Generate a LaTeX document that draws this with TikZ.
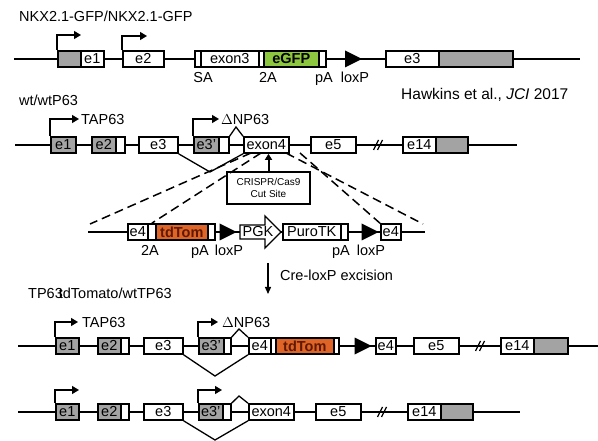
\documentclass[tikz,border=0pt]{standalone}
\usepackage{fontspec}
\setmainfont{Liberation Sans}
\usetikzlibrary{arrows.meta,calc}
\definecolor{exgray}{RGB}{163,163,163}
\definecolor{exgreen}{RGB}{141,198,63}
\definecolor{exorange}{RGB}{222,100,40}
\definecolor{tomtext}{RGB}{95,25,0}
\newcommand\mysz{\fontsize{14.5}{16}\selectfont}
\begin{document}
\begin{tikzpicture}[x=1pt,y=-1pt,
  every node/.style={font=\mysz, inner sep=0pt},
  bb/.style={line width=1.8pt},
  ex/.style={draw, line width=1.6pt, fill=white, minimum height=16pt, anchor=west, inner sep=0pt},
  gx/.style={ex, fill=exgray},
  gfpbox/.style={ex, fill=exgreen, font=\mysz\bfseries},
  tombox/.style={ex, fill=exorange, text=tomtext, font=\mysz\bfseries},
  tss/.style={line width=1.4pt, -{Triangle[length=7pt,width=8pt]}},
  spl/.style={line width=1.3pt},
  dsh/.style={line width=1.5pt, dash pattern=on 9pt off 5pt},
  lbl/.style={anchor=base},
  brk/.style={line width=1.3pt},
  loxp/.pic={\fill (-8.5,-8.5) -- (8.5,0) -- (-8.5,8.5) -- cycle;},
  brkmark/.pic={\draw[brk] (-4.5,5) -- (0.5,-5); \draw[brk] (-0.5,5) -- (4.5,-5);}
]
\useasboundingbox (0,0) rectangle (598,441);

% ---------------- Row 1 : NKX2.1-GFP ----------------
\node[anchor=base west] (t1) at (19,22) {NKX2.1-GFP/NKX2.1-GFP};
\node[anchor=base west, font=\fontsize{15.5}{17}\selectfont] (cite) at (401,100) {Hawkins et al., \textit{JCI} 2017};
\coordinate (r1s) at (14,59); \coordinate (r1end) at (580,59);
\draw[bb] (r1s) -- (r1end);
\node[gx, minimum width=23pt] (r1g) at (57,59) {};
\node[ex, minimum width=23pt] (r1e1) at (80,59) {e1};
\node[ex, minimum width=41pt] (r1e2) at (122,59) {e2};
\node[ex, minimum width=6pt] (r1sa) at (194,59) {};
\node[ex, minimum width=58pt] (r1ex3) at (200,59) {exon3};
\node[ex, minimum width=5pt] (r1ta) at (258,59) {};
\node[gfpbox, minimum width=55pt] (r1gfp) at (263,59) {eGFP};
\node[ex, minimum width=7pt] (r1pa) at (318,59) {};
\pic at (353.5,59) {loxp};
\node[ex, minimum width=53pt] (r1e3) at (385,59) {e3};
\node[gx, minimum width=74pt] (r1g3) at (438,59) {};
\coordinate (r1t1) at (81,35); \coordinate (r1t2) at (147,36);
\draw[tss] (r1g.north west) |- (r1t1);
\draw[tss] (r1e2.north west) |- (r1t2);
\node[lbl] (l1sa) at (203,82.5) {SA};
\node[lbl] (l12a) at (268,82.5) {2A};
\node[lbl] (l1pa) at (324,82.5) {pA};
\node[lbl] (l1lx) at (355,82.5) {loxP};

% ---------------- Row 2 : wt/wtP63 ----------------
\node[anchor=base west] (t2) at (19,106) {wt/wtP63};
\coordinate (r2s) at (15,145); \coordinate (r2end) at (517,145);
\draw[bb] (r2s) -- (r2end);
\node[gx, minimum width=25pt] (r2e1) at (50,145) {e1};
\node[gx, minimum width=24pt] (r2e2) at (91,145) {e2};
\node[ex, minimum width=9pt] (r2e2w) at (115,145) {};
\node[ex, minimum width=39pt] (r2e3) at (138,145) {e3};
\node[gx, minimum width=25pt] (r2s3) at (193,145) {e3'};
\node[ex, minimum width=10pt] (r2s3w) at (218,145) {};
\node[ex, minimum width=45pt] (r2ex4) at (243,145) {exon4};
\node[ex, minimum width=45pt] (r2e5) at (310,145) {e5};
\pic at (378,145) {brkmark};
\node[ex, minimum width=33pt] (r2e14) at (402,145) {e14};
\node[gx, minimum width=32pt] (r2g14) at (435,145) {};
\coordinate (r2t1) at (79,119); \coordinate (r2t2) at (219,119);
\draw[tss] (r2e1.north west) |- (r2t1);
\draw[tss] (r2s3.north west) |- (r2t2);
\node[anchor=base west] (l2tap) at (81,125) {TAP63};
\node[anchor=base west] (l2dnp) at (221,125) {$\Delta$NP63};
\coordinate (r2c) at (236,127); \coordinate (r2v) at (210,172);
\draw[spl] (r2s3w.north east) -- (r2c) -- (r2ex4.north west);
\draw[spl] (r2e3.south east) -- (r2v) -- (r2ex4.south west);

% CRISPR
\node[draw, line width=1.3pt, minimum width=83pt, minimum height=32pt, align=center,
      font=\fontsize{10}{12.5}\selectfont] (crispr) at (268.5,188) {CRISPR/Cas9\\Cut Site};
\draw[line width=2pt, -{Triangle[length=6pt,width=7pt]}] (crispr.north) -- (crispr.north |- r2ex4.south);

% ---------------- Row 3 : targeting construct ----------------
\coordinate (r3s) at (88,232); \coordinate (r3end) at (425,232);
\draw[bb] (r3s) -- (r3end);
\node[ex, minimum width=20pt] (r3e4) at (127,232) {e4};
\node[ex, minimum width=8pt] (r3ta) at (147,232) {};
\node[tombox, minimum width=52pt] (r3tom) at (155,232) {tdTom};
\node[ex, minimum width=7pt] (r3pa) at (207,232) {};
\pic at (228,232) {loxp};
\draw[line width=1.4pt, fill=white] (240,225) -- (265,225) -- (265,216) -- (281,232)
   -- (265,248) -- (265,239) -- (240,239) -- cycle;
\node (pgk) at (258,232) {PGK};
\node[ex, minimum width=58pt] (r3puro) at (282,232) {PuroTK};
\node[ex, minimum width=7pt] (r3pa2) at (340,232) {};
\pic at (370,232) {loxp};
\node[ex, minimum width=20pt] (r3e4b) at (380,232) {e4};
\node[lbl] (l32a) at (150,255.5) {2A};
\node[lbl] (l3pa) at (200,255.5) {pA};
\node[lbl] (l3lx) at (229,255.5) {loxP};
\node[lbl] (l3pa2) at (341,255.5) {pA};
\node[lbl] (l3lx2) at (371,255.5) {loxP};

% dashed zoom lines
\coordinate (d1) at (251,153); \coordinate (d2) at (261,153);
\coordinate (d3) at (286,153); \coordinate (d4) at (300,153);
\coordinate (d1e) at (90,224); \coordinate (d3e) at (423,224);
\draw[dsh] (d1) -- (d1e);
\draw[dsh] (d2) -- (r3ta.north);
\draw[dsh] (d3) -- (d3e);
\draw[dsh] (d4) -- (r3e4b.north west);

% Cre arrow
\coordinate (cre1) at (268,263); \coordinate (cre2) at (268,294);
\draw[line width=1.3pt, -{Triangle[length=7pt,width=6pt]}] (cre1) -- (cre2);
\node[anchor=base west] (cretxt) at (280,281) {Cre-loxP excision};

% ---------------- Row 4 : TP63 tdTomato ----------------
\node[anchor=base west] (t4) at (28,299) {TP63\kern-4pt tdTomato/wtTP63};
\coordinate (r4s) at (18,346); \coordinate (r4end) at (598,346);
\draw[bb] (r4s) -- (r4end);
\node[gx, minimum width=23pt] (r4e1) at (55,346) {e1};
\node[gx, minimum width=23pt] (r4e2) at (97,346) {e2};
\node[ex, minimum width=8pt] (r4e2w) at (120,346) {};
\node[ex, minimum width=39pt] (r4e3) at (143,346) {e3};
\node[gx, minimum width=25pt] (r4s3) at (198,346) {e3'};
\node[ex, minimum width=7pt] (r4s3w) at (223,346) {};
\node[ex, minimum width=22pt] (r4e4) at (248,346) {e4};
\node[ex, minimum width=5pt] (r4ta) at (270,346) {};
\node[tombox, minimum width=58pt] (r4tom) at (275,346) {tdTom};
\node[ex, minimum width=5pt] (r4pa) at (333,346) {};
\pic at (363,346) {loxp};
\node[ex, minimum width=20pt] (r4e4b) at (375,346) {e4};
\node[ex, minimum width=45pt] (r4e5) at (413,346) {e5};
\pic at (480,346) {brkmark};
\node[ex, minimum width=33pt] (r4e14) at (500,346) {e14};
\node[gx, minimum width=34pt] (r4g14) at (533,346) {};
\coordinate (r4t1) at (78,322); \coordinate (r4t2) at (218,322);
\draw[tss] (r4e1.north west) |- (r4t1);
\draw[tss] (r4s3.north west) |- (r4t2);
\node[anchor=base west] (l4tap) at (82,327) {TAP63};
\node[anchor=base west] (l4dnp) at (222,327) {$\Delta$NP63};
\coordinate (r4c) at (239,329); \coordinate (r4v) at (215,376);
\draw[spl] (r4s3w.north east) -- (r4c) -- (r4e4.north west);
\draw[spl] (r4e3.south east) -- (r4v) -- (r4e4.south west);

% ---------------- Row 5 : after excision ----------------
\coordinate (r5s) at (18,412); \coordinate (r5end) at (520,412);
\draw[bb] (r5s) -- (r5end);
\node[gx, minimum width=23pt] (r5e1) at (55,412) {e1};
\node[gx, minimum width=23pt] (r5e2) at (97,412) {e2};
\node[ex, minimum width=8pt] (r5e2w) at (120,412) {};
\node[ex, minimum width=39pt] (r5e3) at (143,412) {e3};
\node[gx, minimum width=24pt] (r5s3) at (198,412) {e3'};
\node[ex, minimum width=8pt] (r5s3w) at (222,412) {};
\node[ex, minimum width=45pt] (r5ex4) at (248,412) {exon4};
\node[ex, minimum width=45pt] (r5e5) at (315,412) {e5};
\pic at (382,412) {brkmark};
\node[ex, minimum width=33pt] (r5e14) at (407,412) {e14};
\node[gx, minimum width=32pt] (r5g14) at (440,412) {};
\coordinate (r5t1) at (79,390); \coordinate (r5t2) at (222,390);
\draw[tss] (r5e1.north west) |- (r5t1);
\draw[tss] (r5s3.north west) |- (r5t2);
\coordinate (r5c) at (239,396); \coordinate (r5v) at (215,440);
\draw[spl] (r5s3w.north east) -- (r5c) -- (r5ex4.north west);
\draw[spl] (r5e3.south east) -- (r5v) -- (r5ex4.south west);
\end{tikzpicture}
\end{document}
